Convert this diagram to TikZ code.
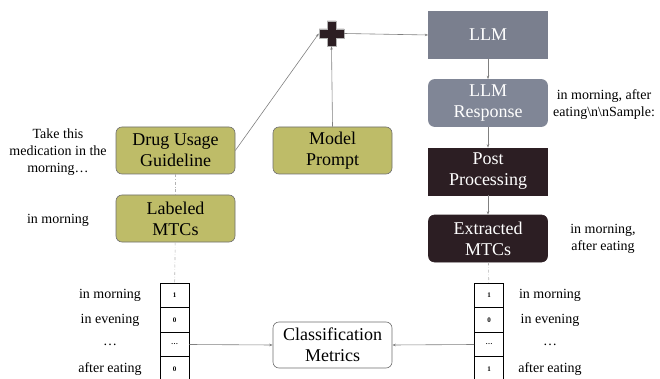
\documentclass[tikz,border=0pt]{standalone}
\usepackage{fontspec}
\setmainfont{Liberation Serif}
\usetikzlibrary{arrows.meta}

\definecolor{olivebox}{RGB}{190,188,104}
\definecolor{llmgray}{RGB}{122,127,142}
\definecolor{respgray}{RGB}{128,134,150}
\definecolor{darkbox}{RGB}{44,30,35}
\definecolor{edgegray}{RGB}{110,110,110}

\begin{document}
\begin{tikzpicture}[x=1pt,y=-1pt,
    box/.style={minimum width=119pt,minimum height=47pt,inner sep=0,align=center,
      font=\fontsize{18}{21}\selectfont,draw=edgegray,line width=0.6pt},
    olive/.style={box,rounded corners=6pt,fill=olivebox,text=black},
    grey/.style={box,fill=llmgray,draw=llmgray,text=white},
    dark/.style={box,fill=darkbox,draw=darkbox,text=white},
    side/.style={align=center,font=\fontsize{14}{17}\selectfont,inner sep=0},
    cell/.style={draw,minimum width=29pt,minimum height=24.5pt,inner sep=0,
      font=\fontsize{7}{8}\selectfont\bfseries,line width=0.6pt},
    arr/.style={draw=gray,line width=0.6pt,-{Stealth[length=3.5pt,width=2.5pt]}},
    dd/.style={draw=gray!60,dash dot,line width=0.6pt}]
  \useasboundingbox (0,0) rectangle (660,379);

  % left column
  \node[olive] (drug) at (175.5,150.5) {Drug Usage\\Guideline};
  \node[olive] (labeled) at (175.5,218.5) {Labeled\\MTCs};
  \node[olive] (prompt) at (332.5,150.5) {Model\\Prompt};
  \node[side] (guidetxt) at (58,152) {Take this\\medication in the\\morning\ldots};
  \node[side] (labtxt) at (58,220) {in morning};

  % combine
  \node[minimum size=25pt,inner sep=0] (plus) at (331.5,33.5) {};
  \filldraw[fill=darkbox,draw=gray!60,line width=0.6pt,shift={(plus.center)}]
    (-4.5,-12.5) -- (4.5,-12.5) -- (4.5,-4.5) -- (12.5,-4.5) -- (12.5,4.5)
    -- (4.5,4.5) -- (4.5,12.5) -- (-4.5,12.5) -- (-4.5,4.5) -- (-12.5,4.5)
    -- (-12.5,-4.5) -- (-4.5,-4.5) -- cycle;

  % right column
  \node[grey] (llm) at (488,35) {LLM};
  \node[grey,rounded corners=6pt,fill=respgray,draw=respgray] (resp) at (488,103) {LLM\\Response};
  \node[dark] (post) at (488,171.5) {Post\\Processing};
  \node[dark,rounded corners=6pt] (extract) at (488,238.5) {Extracted\\MTCs};
  \node[side] (resptxt) at (604,104.5) {in morning, after\\eating\textbackslash n\textbackslash nSample:};
  \node[side] (extxt) at (603,238.5) {in morning,\\after eating};

  % tables
  \foreach \v [count=\i] in {1,0,\ldots,0}
    \node[cell] (ltab\i) at (174.5,271+24.5*\i) {\v};
  \foreach \v [count=\i] in {1,0,\ldots,1}
    \node[cell] (rtab\i) at (489,271+24.5*\i) {\v};
  \foreach \t [count=\i] in {in morning,in evening,\ldots,after eating} {
    \node[side] (lrow\i) at (110,271+24.5*\i) {\t};
    \node[side] (rrow\i) at (550,271+24.5*\i) {\t};
  }
  \node[box,rounded corners=6pt,fill=white,minimum height=46pt] (metric) at (332.5,345) {Classification\\Metrics};

  % connectors
  \draw[arr] (drug.east) -- (plus.west);
  \draw[arr] (prompt.north) -- (plus.south);
  \draw[arr] (plus.east) -- (llm.west);
  \draw[arr] (llm) -- (resp);
  \draw[arr] (resp) -- (post);
  \draw[arr] (post) -- (extract);
  \draw[dd] (drug) -- (labeled);
  \draw[dd] (labeled) -- (ltab1);
  \draw[dd] (extract) -- (rtab1);
  \draw[arr] (ltab3.east) -- (metric.west);
  \draw[arr] (rtab3.west) -- (metric.east);
\end{tikzpicture}
\end{document}
